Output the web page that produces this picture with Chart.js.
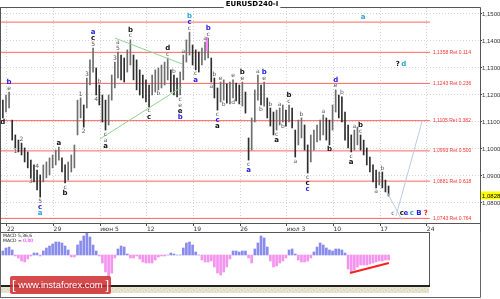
<!DOCTYPE html>
<html>
<head>
<meta charset="utf-8">
<title>EURUSD240-I</title>
<script src="https://cdn.jsdelivr.net/npm/chart.js@4.4.0/dist/chart.umd.min.js"></script>
<style>
  html, body { margin: 0; padding: 0; background: #fff; }
  #wrap { position: relative; width: 500px; height: 299px; overflow: hidden; }
  #main { position: absolute; left: 0; top: 0; }
  #macd { position: absolute; left: 0; top: 232px; }
  #logo {
    position: absolute; left: 10px; top: 276px; width: 101px; height: 18px;
    background: rgba(204, 42, 46, 0.85); border-radius: 2px; color: #fff;
    font: 9.5px "Liberation Sans", Arial, sans-serif; line-height: 18px;
    text-align: center; white-space: nowrap;
  }
  #logo b { font-weight: normal; font-size: 13px; vertical-align: top; }
</style>
</head>
<body>
<div id="wrap">
  <canvas id="main" width="500" height="232"></canvas>
  <canvas id="macd" width="500" height="67"></canvas>
  <div id="logo"><b>[</b> www.instaforex.com <b>]</b></div>
</div>
<script>
// --- data (4h bars) ---
const highs = [
  1.1181, 1.1200, 1.1211, 1.1107, 1.1052, 1.1033, 1.1022, 1.1004, 1.0989, 1.0959,
  1.0941, 1.0922, 1.0904, 1.0941, 1.0952, 1.0967, 1.0978, 1.0996, 1.1007, 1.0967,
  1.0941, 1.0952, 1.0978, 1.1015, 1.1181, 1.1189, 1.1163, 1.1263, 1.1330, 1.1374,
  1.1300, 1.1237, 1.1200, 1.1181, 1.1200, 1.1274, 1.1322, 1.1359, 1.1348, 1.1337,
  1.1367, 1.1404, 1.1348, 1.1330, 1.1293, 1.1274, 1.1256, 1.1237, 1.1274, 1.1293,
  1.1300, 1.1311, 1.1322, 1.1337, 1.1293, 1.1274, 1.1263, 1.1285, 1.1348, 1.1404,
  1.1433, 1.1385, 1.1367, 1.1359, 1.1374, 1.1396, 1.1411, 1.1337, 1.1263, 1.1226,
  1.1248, 1.1256, 1.1241, 1.1248, 1.1256, 1.1244, 1.1237, 1.1248, 1.1211, 1.1041,
  1.1115, 1.1219, 1.1274, 1.1237, 1.1248, 1.1189, 1.1152, 1.1137, 1.1144, 1.1152,
  1.1163, 1.1144, 1.1163, 1.1152, 1.1070, 1.1107, 1.1115, 1.1089, 1.1015, 1.1052,
  1.1070, 1.1089, 1.1107, 1.1126, 1.1115, 1.1107, 1.1163, 1.1219, 1.1200, 1.1193,
  1.1137, 1.1089, 1.1052, 1.1070, 1.1081, 1.1052, 1.1033, 1.1004, 1.0970, 1.0941,
  1.0922, 1.0915, 1.0915, 1.0885, 1.0863
];
const lows = [
  1.1115, 1.1137, 1.1152, 1.1033, 1.1004, 1.0989, 1.0978, 1.0952, 1.0930, 1.0893,
  1.0878, 1.0848, 1.0822, 1.0878, 1.0893, 1.0904, 1.0930, 1.0941, 1.0959, 1.0915,
  1.0874, 1.0885, 1.0915, 1.0930, 1.1052, 1.1115, 1.1081, 1.1152, 1.1237, 1.1285,
  1.1200, 1.1163, 1.1100, 1.1070, 1.1089, 1.1181, 1.1226, 1.1263, 1.1256, 1.1248,
  1.1285, 1.1311, 1.1256, 1.1219, 1.1200, 1.1189, 1.1174, 1.1156, 1.1200, 1.1211,
  1.1219, 1.1226, 1.1237, 1.1256, 1.1211, 1.1200, 1.1193, 1.1200, 1.1256, 1.1322,
  1.1348, 1.1311, 1.1293, 1.1285, 1.1311, 1.1330, 1.1337, 1.1248, 1.1189, 1.1144,
  1.1174, 1.1181, 1.1170, 1.1167, 1.1189, 1.1178, 1.1167, 1.1159, 1.1133, 1.0959,
  1.0996, 1.1100, 1.1181, 1.1163, 1.1159, 1.1115, 1.1085, 1.1052, 1.1070, 1.1089,
  1.1100, 1.1085, 1.1100, 1.1078, 1.0970, 1.1015, 1.1041, 1.0996, 1.0911, 1.0952,
  1.0996, 1.1026, 1.1033, 1.1052, 1.1033, 1.1015, 1.1070, 1.1137, 1.1115, 1.1100,
  1.1033, 1.1004, 1.0989, 1.0996, 1.1015, 1.0996, 1.0978, 1.0941, 1.0915, 1.0878,
  1.0856, 1.0867, 1.0856, 1.0841, 1.0826
];
const lastPrice = 1.0828;

// MACD histogram, in 0.1 pip
const macdHist = [
  4, 7, 8, 5, -1, -3, -6, -7, -4, -1,
  2, 2, -1, 4, 7, 9, 11, 13, 13, 12,
  9, 5, -2, -2, 10, 14, 19, 22, 18, 10,
  4, -1, -8, -17, -22, -18, -3, 6, 9, 8,
  1, -3, -3, -1, -4, -7, -8, -8, -8, -5,
  -2, -1, -1, 0, 2, 1, 0, 0, 7, 12,
  13, 10, 3, 0, -5, -7, -7, -6, -12, -18,
  -20, -17, -12, -4, 4, 4, 3, 4, 4, -3,
  -8, 6, 12, 19, 17, 8, -6, -12, -11, -8,
  -6, -3, 5, 6, 1, -5, -7, -7, -6, -3,
  3, 8, 12, 10, 7, 5, 4, 6, 6, 5,
  2, -14, -17, -15, -12, -10, -10, -10, -9, -8,
  -7, -6, -6, -5, -5
];

const levels = [1.1470, 1.1358, 1.1243, 1.1105, 1.0993, 1.0881, 1.0743];
const levelText = ['', '1,1358 Ret 0.114', '1,1243 Ret 0.236', '1,1105 Ret 0.382',
  '1,0993 Ret 0.500', '1,0881 Ret 0.618', '1,0743 Ret 0.764'];

const priceTicks = [1.08, 1.09, 1.10, 1.11, 1.12, 1.13, 1.14, 1.15];
const timeTicks = [1.3, 16.3, 31.3, 46.3, 61.3, 76.3, 91.3, 106.3, 121.3, 136.3];
const timeLabels = ['22', '29', 'июн 5', '12', '19', '26', 'июл 3', '10', '17', '24'];

// wave marks hung on a bar: [bar, side, "text+style ..."]
const waveLabels = [
  [2, 'hi', 'ek bb'], [0, 'lo', 'dK'], [4, 'lo', '1k'], [6, 'hi', '2k'],
  [9, 'lo', '3k'], [11, 'hi', '4k'], [12, 'lo', '5k cb ac'], [18, 'hi', 'aK'],
  [20, 'lo', 'ck bK'], [25, 'hi', '1k'], [26, 'lo', '2k'], [27, 'hi', '3k'],
  [29, 'hi', '5k cK ab'], [30, 'lo', '4k'], [31, 'hi', 'bk'], [33, 'lo', 'ck ak aK'],
  [36, 'hi', '3k'], [37, 'hi', '5k ak'], [41, 'hi', 'ck bK'], [47, 'lo', 'ck cK'],
  [50, 'lo', 'bk'], [53, 'hi', 'ck dK'], [55, 'hi', 'bk'], [57, 'lo', 'ck ek eK bb'],
  [58, 'hi', 'ak'], [60, 'hi', 'ck cb bc'], [62, 'lo', 'ck ab'], [65, 'hi', 'ak'],
  [66, 'hi', 'ck bb'], [68, 'hi', 'bk'], [67, 'lo', 'ak'], [69, 'lo', 'ck cb aK'],
  [70, 'hi', 'ek'], [71, 'lo', 'bk'], [74, 'hi', 'ek'], [74, 'lo', 'dk'],
  [77, 'hi', 'ek bK'], [79, 'lo', 'ck ab'], [82, 'hi', 'ak'], [84, 'hi', 'ek bb'],
  [83, 'lo', 'bk'], [86, 'hi', 'bk'], [88, 'lo', 'ck aK'], [89, 'hi', 'ak'],
  [90, 'lo', 'bk'], [92, 'hi', 'ck bK'], [94, 'lo', 'ak'], [96, 'hi', 'bk'],
  [98, 'lo', 'ck cK cb'], [103, 'hi', 'ak'], [105, 'lo', 'bK'], [107, 'hi', 'ek db'],
  [109, 'hi', 'bk'], [112, 'lo', 'ck aK'], [113, 'hi', 'ak'], [115, 'hi', 'ck bK'],
  [120, 'lo', 'ak'], [122, 'hi', 'bk']
];
// free marks: [bar, price, text, style]
const freeLabels = [
  [115.8, 1.1489, 'a', 'c'], [127.0, 1.1315, '?', 'K'], [128.9, 1.1315, 'd', 'c'],
  [125.4, 1.0763, 'c', 'k'], [128.3, 1.0763, 'c', 'K'], [129.6, 1.0763, 'e', 'b'],
  [131.5, 1.0763, 'c', 'c'], [133.8, 1.0763, 'B', 'b'], [136.0, 1.0763, '?', 'r']
];
// drawn lines: [bar1, price1, bar2, price2, colour, width]
const trendLines = [
  [36.0, 1.1411, 57.6, 1.1315, '#8fd48f', 1],
  [31.2, 1.1037, 57.6, 1.1230, '#8fd48f', 1],
  [123.5, 1.0841, 128.3, 1.0737, '#bccbe2', 1],
  [126.4, 1.0752, 134.8, 1.1104, '#bccbe2', 1],
  [65.6, 1.1415, 65.6, 1.1363, '#ff88ff', 2]
];
const divergence = [[111.6, -18], [124.1, -8]];

const xMin = -0.6, xMaxMain = 153.4, xMaxMacd = 137.0, levelEnd = 137.3;
const yMin = 1.15 - 209 / 2700, yMax = 1.15 + 6 / 2700;
const labelStyle = {
  k: ['6px "DejaVu Sans"', '#555'],
  K: ['bold 7px "DejaVu Sans"', '#111'],
  b: ['bold 7px "DejaVu Sans"', '#2323e6'],
  c: ['bold 7px "DejaVu Sans"', '#2aa6d8'],
  r: ['bold 7px "DejaVu Sans"', '#ff2020']
};

const fmt = v => v.toFixed(4).replace('.', ',');

const overlay = {
  id: 'overlay',
  afterDatasetsDraw(chart) {
    const { ctx, chartArea: a, scales: { x, y } } = chart;
    ctx.save();
    ctx.textAlign = 'center';
    ctx.textBaseline = 'middle';

    waveLabels.forEach(([i, side, spec]) => {
      const px = x.getPixelForValue(i);
      let py = side === 'hi' ? y.getPixelForValue(highs[i]) - 4 : y.getPixelForValue(lows[i]) + 4;
      const step = side === 'hi' ? -6 : 6;
      spec.split(' ').forEach(tok => {
        const st = labelStyle[tok[1]];
        ctx.font = st[0];
        ctx.fillStyle = st[1];
        ctx.fillText(tok[0], px, py);
        py += step;
      });
    });
    freeLabels.forEach(([i, p, t, s]) => {
      ctx.font = labelStyle[s][0];
      ctx.fillStyle = labelStyle[s][1];
      ctx.fillText(t, x.getPixelForValue(i), y.getPixelForValue(p));
    });

    // fibo level captions
    ctx.textAlign = 'left';
    ctx.font = '5px "Liberation Sans"';
    ctx.fillStyle = '#ff3030';
    levels.forEach((lv, k) => {
      if (levelText[k]) ctx.fillText(levelText[k], x.getPixelForValue(levelEnd) + 3, y.getPixelForValue(lv));
    });

    // frame
    ctx.strokeStyle = '#555';
    ctx.lineWidth = 1;
    ctx.beginPath();
    ctx.moveTo(0, a.top - 0.5); ctx.lineTo(a.right + 0.5, a.top - 0.5);
    ctx.moveTo(a.left - 0.5, a.top - 0.5); ctx.lineTo(a.left - 0.5, chart.height);
    ctx.moveTo(a.right + 0.5, a.top - 0.5); ctx.lineTo(a.right + 0.5, chart.height);
    ctx.moveTo(0, a.bottom + 0.5); ctx.lineTo(a.right + 0.5, a.bottom + 0.5);
    ctx.stroke();

    // title
    const title = 'EURUSD240-I';
    ctx.font = 'bold 7px "DejaVu Sans"';
    const tw = ctx.measureText(title).width;
    ctx.fillStyle = '#fff';
    ctx.fillRect(252 - tw / 2 - 2, 0, tw + 4, 9);
    ctx.fillStyle = '#000';
    ctx.textAlign = 'center';
    ctx.fillText(title, 252, 4.5);

    // current price tag
    const py = y.getPixelForValue(lastPrice);
    ctx.fillStyle = '#ffff00';
    ctx.fillRect(a.right + 1, py - 4, 19, 8);
    ctx.fillStyle = '#000';
    ctx.font = '6px "Liberation Sans"';
    ctx.textAlign = 'left';
    ctx.fillText(fmt(lastPrice), a.right + 2, py + 0.5);
    ctx.restore();
  }
};

const datasets = [{
  type: 'bar',
  order: 3,
  data: highs.map((h, i) => ({ x: i, y: [lows[i], h] })),
  barThickness: 1,
  backgroundColor: c => {
    const i = c.dataIndex;
    if (i === 0) return '#333';
    return highs[i] + lows[i] >= highs[i - 1] + lows[i - 1] ? '#6e6e6e' : '#2e2e2e';
  }
}];
levels.forEach(lv => datasets.push({
  type: 'line', order: 5, data: [{ x: xMin, y: lv }, { x: levelEnd, y: lv }],
  borderColor: '#ff6464', borderWidth: 1, pointRadius: 0, fill: false
}));
trendLines.forEach(([i1, p1, i2, p2, col, w]) => datasets.push({
  type: 'line', order: 1, data: [{ x: i1, y: p1 }, { x: i2, y: p2 }],
  borderColor: col, borderWidth: w, pointRadius: 0, fill: false
}));

new Chart(document.getElementById('main'), {
  type: 'bar',
  data: { datasets },
  options: {
    responsive: false, animation: false, devicePixelRatio: 1,
    layout: { padding: { left: 1, top: 8, right: 0, bottom: 0 } },
    plugins: { legend: { display: false }, tooltip: { enabled: false } },
    scales: {
      x: {
        type: 'linear', min: xMin, max: xMaxMain, offset: false,
        afterBuildTicks: s => { s.ticks = timeTicks.map(v => ({ value: v })); },
        afterFit: s => { s.height = 9; },
        ticks: {
          align: 'start', autoSkip: false, maxRotation: 0, padding: 0,
          font: { size: 6, family: 'DejaVu Sans' }, color: '#333',
          callback: (v, i) => timeLabels[i]
        },
        grid: { offset: false, color: '#d4d4d4', tickColor: '#444', tickLength: 3 },
        border: { display: false, dash: [1, 2] }
      },
      y: {
        position: 'right', min: yMin, max: yMax,
        afterBuildTicks: s => { s.ticks = priceTicks.map(v => ({ value: v })); },
        afterFit: s => { s.width = 20; },
        ticks: {
          padding: 0, font: { size: 6, family: 'Liberation Sans' }, color: '#333',
          callback: v => fmt(v)
        },
        grid: { color: '#d4d4d4', tickColor: '#444', tickLength: 2 },
        border: { display: false, dash: [1, 2] }
      }
    }
  },
  plugins: [overlay]
});

const macdFrame = {
  id: 'macdFrame',
  afterDraw(chart) {
    const { ctx, chartArea: a } = chart;
    ctx.save();
    ctx.fillStyle = '#e8e4cf';
    ctx.fillRect(a.left - 1, a.bottom + 2, a.right - a.left + 1, 6);
    ctx.fillStyle = '#d3ceb4';
    for (let px = a.left; px < a.right; px += 3) {
      ctx.fillRect(px, a.bottom + 3 + (px % 2), 1, 1);
      ctx.fillRect(px + 1, a.bottom + 6 - (px % 2), 1, 1);
    }
    ctx.strokeStyle = '#555';
    ctx.lineWidth = 1;
    ctx.strokeRect(a.left - 0.5, a.top - 0.5, a.right - a.left + 1, a.bottom - a.top + 1);
    ctx.strokeStyle = '#222';
    ctx.lineWidth = 2;
    ctx.beginPath();
    ctx.moveTo(a.left - 1, a.bottom + 1); ctx.lineTo(a.right + 1, a.bottom + 1);
    ctx.stroke();
    ctx.strokeStyle = '#666';
    ctx.lineWidth = 1;
    ctx.beginPath();
    ctx.moveTo(0.5, 0); ctx.lineTo(0.5, 65.5);
    ctx.moveTo(480.5, 0); ctx.lineTo(480.5, 65.5);
    ctx.moveTo(0, 65.5); ctx.lineTo(480.5, 65.5);
    ctx.stroke();

    ctx.font = '4.5px "DejaVu Sans"';
    ctx.textBaseline = 'middle';
    ctx.textAlign = 'left';
    ctx.fillStyle = '#222';
    ctx.fillText('MACD 5,36,6', a.left + 2, a.top + 3);
    const lead = 'MACD = ';
    ctx.fillText(lead, a.left + 2, a.top + 8);
    ctx.fillStyle = '#ff00ff';
    ctx.fillText('0,00', a.left + 2 + ctx.measureText(lead).width, a.top + 8);
    ctx.restore();
  }
};

new Chart(document.getElementById('macd'), {
  type: 'bar',
  data: {
    datasets: [{
      type: 'bar', order: 2,
      data: macdHist.map((v, i) => ({ x: i, y: v })),
      barThickness: 2,
      backgroundColor: c => (c.raw && c.raw.y >= 0 ? '#8a8cec' : '#f394ee')
    }, {
      type: 'line', order: 1,
      data: divergence.map(([i, v]) => ({ x: i, y: v })),
      borderColor: '#ff1e1e', borderWidth: 2, pointRadius: 0, fill: false
    }]
  },
  options: {
    responsive: false, animation: false, devicePixelRatio: 1,
    layout: { padding: { left: 1, top: 1, right: 71, bottom: 14 } },
    plugins: { legend: { display: false }, tooltip: { enabled: false } },
    scales: {
      x: { type: 'linear', display: false, min: xMin, max: xMaxMacd, offset: false, grid: { offset: false } },
      y: { display: false, min: -30, max: 22 }
    }
  },
  plugins: [macdFrame]
});
</script>
</body>
</html>
